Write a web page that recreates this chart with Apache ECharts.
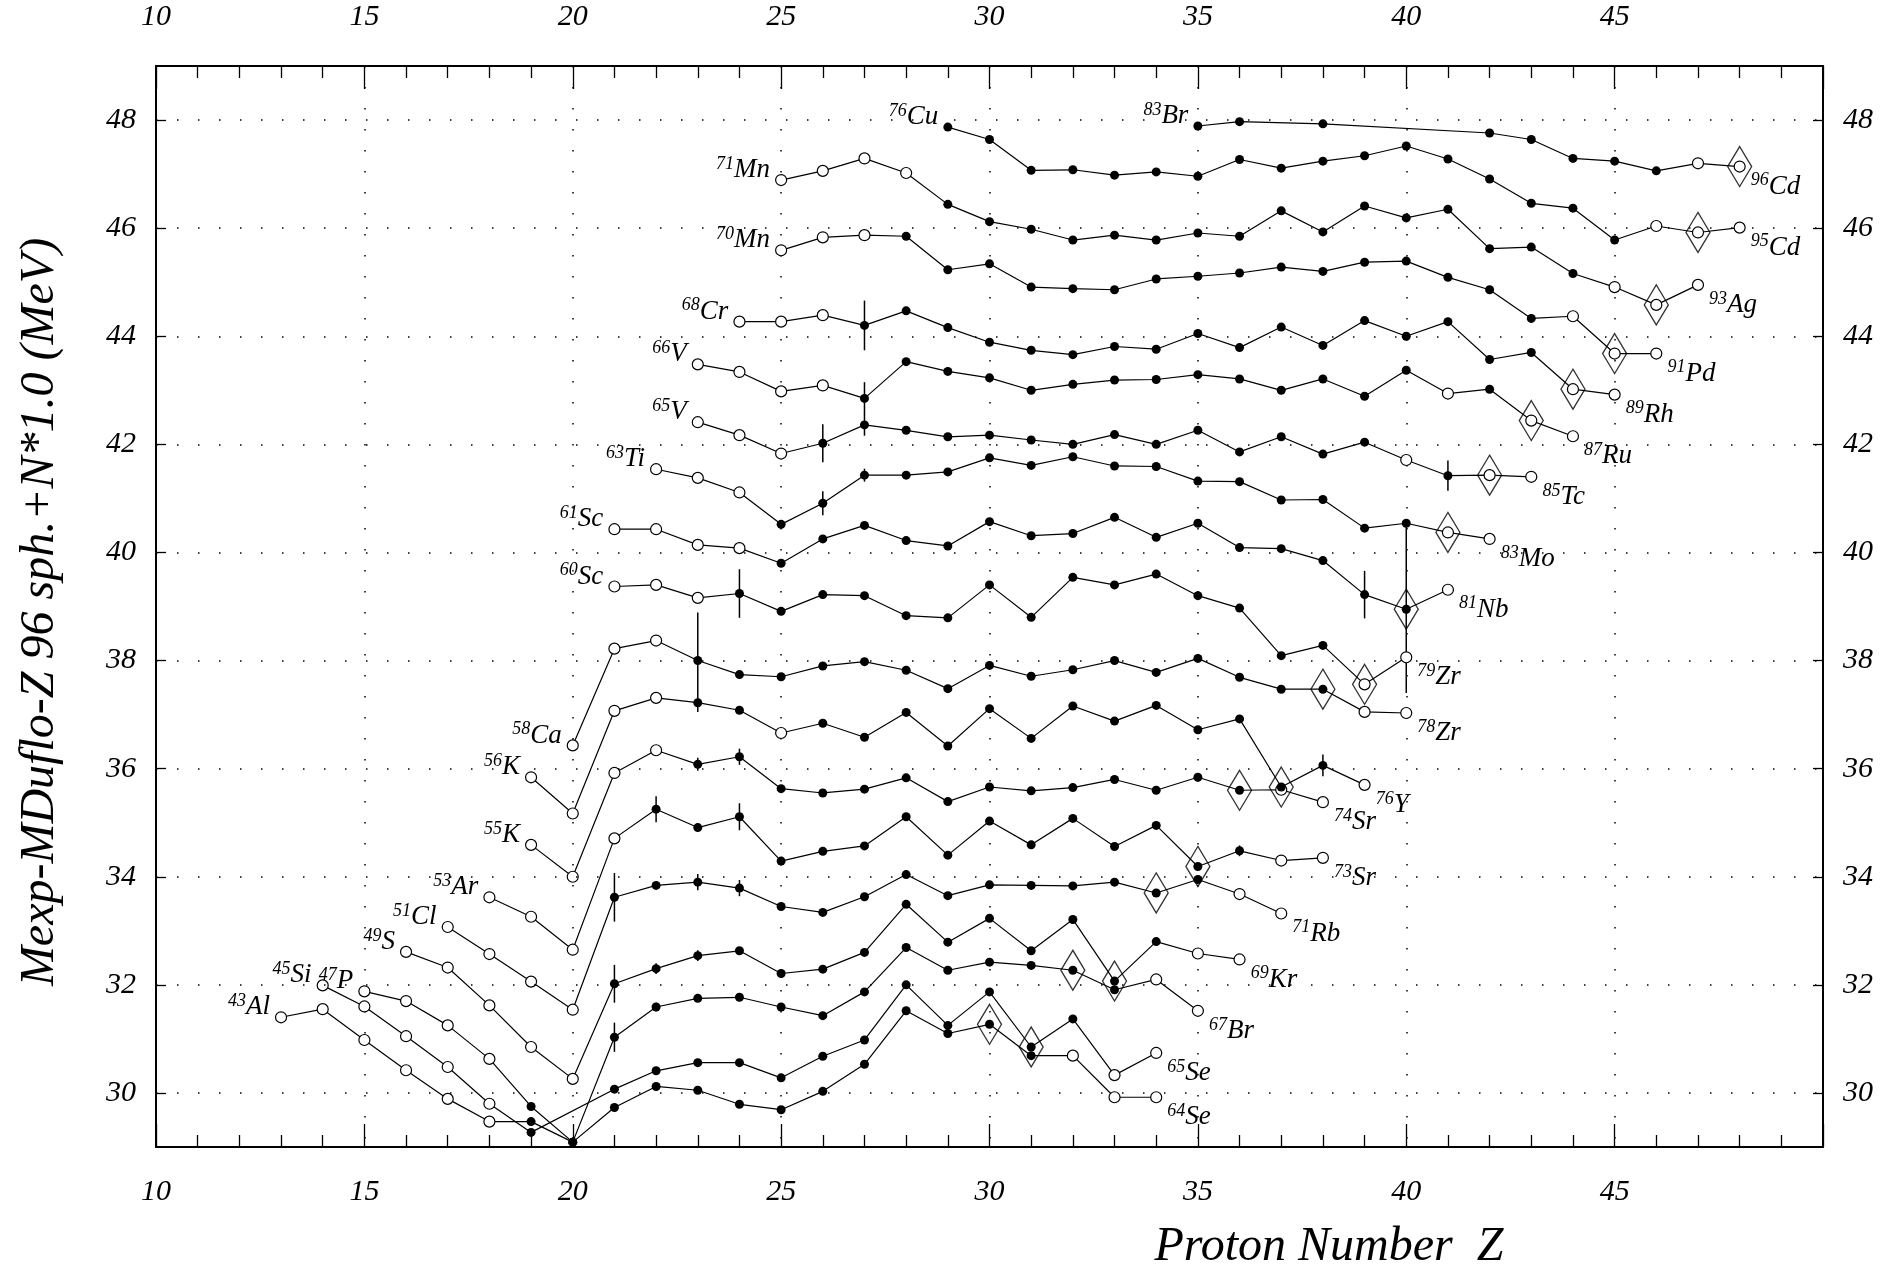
<!DOCTYPE html>
<html><head><meta charset="utf-8">
<script src="https://cdn.jsdelivr.net/npm/echarts@6/dist/echarts.min.js"></script>
<style>html,body{margin:0;padding:0;background:#fff}#c{width:1895px;height:1269px}</style>
</head><body><div id="c"></div>
<script>
const F = '"Liberation Serif","DejaVu Serif",serif';
const yTicks = [30,32,34,36,38,40,42,44,46,48];

// isotone chains: neutron number, first Z, labels
const chainN = [30,31,32,33,34,35,36,37,38,39,40,41,42,43,44,45,46,47,48];
const chainZ0 = [13,14,15,16,17,18,19,19,20,21,21,22,23,23,24,25,25,29,35];
const leftMass = ['43','45','47','49','51','53','55','56','58','60','61','63','65','66','68','70','71','76','83'];
const leftEl = ['Al','Si','P','S','Cl','Ar','K','K','Ca','Sc','Sc','Ti','V','V','Cr','Mn','Mn','Cu','Br'];
const rightMass = ['64','65','67','69','71','73','74','76','78','79','81','83','85','87','89','91','93','95','96'];
const rightEl = ['Se','Se','Br','Kr','Rb','Sr','Sr','Y','Zr','Zr','Nb','Mo','Tc','Ru','Rh','Pd','Ag','Cd','Cd'];

// values (MeV) from first Z upward, null = no point
const N30 = [31.40,31.55,30.98,30.42,29.89,29.47,29.47,29.09,29.73,30.12,30.05,29.79,29.69,30.03,30.53,31.52,31.10,31.27,30.69,30.69,29.92,29.92];
const N31 = [31.99,31.60,31.05,30.48,29.80,29.27,null,30.07,30.41,30.56,30.56,30.28,30.68,30.98,32.00,31.25,31.87,30.85,31.37,30.33,30.74];
const N32 = [31.88,31.70,31.25,30.63,29.75,29.09,31.03,31.59,31.75,31.77,31.59,31.43,31.87,32.69,32.27,32.42,32.36,32.27,31.91,32.10,31.52];
const N33 = [32.61,32.32,31.62,30.85,30.26,32.02,32.30,32.54,32.63,32.21,32.29,32.60,33.49,32.79,33.23,32.63,33.21,32.07,32.80,32.58,32.47];
const N34 = [33.07,32.57,32.06,31.54,33.62,33.84,33.90,33.79,33.45,33.34,33.63,34.04,33.65,33.85,33.84,33.83,33.90,33.70,33.95,33.68,33.32];
const N35 = [33.62,33.26,32.65,34.71,35.25,34.91,35.11,34.29,34.47,34.57,35.11,34.40,35.03,34.59,35.08,34.56,34.95,34.19,34.48,34.30,34.35];
const N36 = [34.59,34.00,35.92,36.34,36.08,36.22,35.63,35.55,35.62,35.83,35.39,35.66,35.59,35.65,35.80,35.60,35.84,35.60,35.61,35.38];
const N37 = [35.84,35.17,37.07,37.31,37.22,37.08,36.66,36.84,36.58,37.04,36.42,37.11,36.56,37.16,36.88,37.17,36.72,36.92,35.66,36.06,35.70];
const N38 = [36.43,38.22,38.37,38.00,37.74,37.70,37.90,37.98,37.82,37.48,37.91,37.71,37.83,38.00,37.78,38.04,37.69,37.47,37.47,37.05,37.03];
const N39 = [39.37,39.40,39.16,39.24,38.91,39.22,39.20,38.83,38.79,39.40,38.80,39.54,39.40,39.60,39.20,38.97,38.09,38.28,37.56,38.06];
const N40 = [40.43,40.43,40.14,40.08,39.80,40.25,40.50,40.22,40.12,40.57,40.31,40.35,40.65,40.28,40.54,40.09,40.07,39.85,39.22,38.95,39.31];
const N41 = [41.54,41.38,41.11,40.52,40.91,41.43,41.43,41.49,41.75,41.61,41.77,41.60,41.59,41.32,41.31,40.97,40.98,40.45,40.54,40.37,40.25];
const N42 = [42.41,42.17,41.83,42.02,42.36,42.26,42.14,42.17,42.08,42.00,42.18,42.00,42.26,41.86,42.14,41.82,42.04,41.71,41.42,41.43,41.40];
const N43 = [43.48,43.34,42.98,43.09,42.85,43.53,43.35,43.23,43.00,43.11,43.19,43.20,43.29,43.21,43.00,43.21,42.89,43.37,42.94,43.02,42.44,42.15];
const N44 = [44.27,44.27,44.39,44.20,44.47,44.16,43.89,43.74,43.66,43.81,43.76,44.05,43.79,44.17,43.83,44.29,44.00,44.27,43.57,43.70,43.02,42.92];
const N45 = [45.59,45.83,45.87,45.85,45.23,45.34,44.91,44.88,44.86,45.06,45.11,45.17,45.28,45.20,45.37,45.39,45.09,44.86,44.33,44.37,43.68,43.68];
const N46 = [46.89,47.06,47.29,47.02,46.44,46.12,45.98,45.78,45.87,45.78,45.91,45.85,46.32,45.93,46.41,46.19,46.35,45.62,45.65,45.16,44.91,44.58,44.95];
const N47 = [47.87,47.64,47.07,47.08,46.98,47.04,46.96,47.27,47.11,47.24,47.34,47.52,47.28,46.91,46.46,46.37,45.78,46.04,45.92,46.01];
const N48 = [47.89,47.97,null,47.93,null,null,null,47.76,47.64,47.29,47.24,47.06,47.20,47.14];

// Z of extrapolated (open-circle) points per chain
const open30 = [13,14,15,16,17,18,32,33,34];
const open31 = [14,15,16,17,18,33,34];
const open32 = [15,16,17,18,34,35];
const open33 = [16,17,18,19,20,35,36];
const open34 = [17,18,19,20,36,37];
const open35 = [18,19,20,21,37,38];
const open36 = [19,20,21,22,37,38];
const open37 = [19,20,21,22,25,39];
const open38 = [20,21,22,39,40];
const open39 = [21,22,23,39,40];
const open40 = [21,22,23,24,41];
const open41 = [22,23,24,41,42];
const open42 = [23,24,25,40,42,43];
const open43 = [23,24,25,26,41,43,44];
const open44 = [24,25,26,44,45];
const open45 = [25,26,27,44,45,46];
const open46 = [25,26,27,28,45,46,47];
const open47 = [46,47,48];
const open48 = [47,48];

// error bars: [Z, value, half-width]
const errBars = [[21,31.03,0.27],[21,32.02,0.35],[21,33.62,0.45],[22,35.25,0.24],[22,32.30,0.10],[22,31.59,0.08],
  [23,37.97,0.92],[23,36.08,0.12],[23,33.90,0.15],[23,32.54,0.10],[24,36.22,0.15],[24,35.11,0.25],[24,33.79,0.15],
  [24,39.24,0.45],[26,40.91,0.22],[27,41.43,0.12],[26,42.02,0.35],[27,42.36,0.20],[27,42.85,0.30],[27,44.20,0.46],
  [36,34.48,0.10],[38,36.06,0.20],[39,39.22,0.44],[40,39.00,1.60],[41,41.42,0.28],[43,44.33,0.08]];

const chainVals = [N30,N31,N32,N33,N34,N35,N36,N37,N38,N39,N40,N41,N42,N43,N44,N45,N46,N47,N48];
const chainOpen = [open30,open31,open32,open33,open34,open35,open36,open37,open38,open39,open40,open41,open42,open43,open44,open45,open46,open47,open48];

const rich = {
  s: {fontSize: 18, fontStyle: 'italic', fontFamily: F, color: '#000', verticalAlign: 'top', lineHeight: 18},
  e: {fontSize: 27, fontStyle: 'italic', fontFamily: F, color: '#000', lineHeight: 30}
};

const series = [];
const diamonds = [];
chainN.forEach((N, k) => {
  const z0 = chainZ0[k], vals = chainVals[k], op = chainOpen[k];
  const pts = [];
  vals.forEach((v, i) => { if (v !== null) pts.push([z0 + i, v]); });
  const data = pts.map((p, j) => {
    const isOpen = op.indexOf(p[0]) >= 0;
    const item = {
      value: p,
      symbolSize: isOpen ? 11 : 9,
      itemStyle: isOpen ? {color: '#fff', borderColor: '#000', borderWidth: 1.2} : {color: '#000', borderColor: '#000', borderWidth: 0}
    };
    if (j === 0) item.label = {show: true, position: 'left', distance: 5, offset: [0, -10],
      formatter: '{s|' + leftMass[k] + '}{e|' + leftEl[k] + '}', rich: rich};
    if (j === pts.length - 1) item.label = {show: true, position: 'right', distance: 5, offset: [0, 20],
      formatter: '{s|' + rightMass[k] + '}{e|' + rightEl[k] + '}', rich: rich};
    if (p[0] === N) diamonds.push(p);
    return item;
  });
  series.push({
    type: 'line', data: data, symbol: 'circle', showAllSymbol: true, connectNulls: true,
    lineStyle: {color: '#000', width: 1.2}, itemStyle: {color: '#000'},
    label: {show: false}, z: 3, silent: true, animation: false,
    markLine: k === 0 ? {silent: true, symbol: ['none', 'none'], label: {show: false}, animation: false,
      lineStyle: {type: [1.5, 19.5], color: '#000', width: 1.5},
      data: yTicks.map(v => ({yAxis: v}))} : undefined
  });
});

series.unshift({
  type: 'custom', data: errBars, encode: {x: 0, y: 1}, z: 2, silent: true, animation: false,
  renderItem: function (params, api) {
    const x = api.value(0), y = api.value(1), e = api.value(2);
    const a = api.coord([x, y - e]), b = api.coord([x, y + e]);
    return {type: 'line', shape: {x1: a[0], y1: a[1], x2: b[0], y2: b[1]}, style: {stroke: '#000', lineWidth: 1.5}};
  }
});

series.push({
  type: 'scatter', data: diamonds, symbol: 'diamond', symbolSize: [24, 40], z: 5, silent: true, animation: false,
  itemStyle: {color: 'rgba(0,0,0,0)', borderColor: '#000', borderWidth: 1.4}
});

const labelStyle = {fontSize: 30, fontStyle: 'italic', fontFamily: F, color: '#000'};
const xBase = {
  type: 'value', min: 10, max: 50, interval: 5,
  axisLine: {show: true, onZero: false, lineStyle: {color: '#000', width: 2}},
  axisTick: {show: true, inside: true, length: 23, lineStyle: {color: '#000', width: 1.3}},
  minorTick: {show: true, splitNumber: 5, length: 12, lineStyle: {color: '#000', width: 1.3}},
  axisLabel: Object.assign({formatter: v => (v === 50 ? '' : String(v)), margin: 30}, labelStyle)
};
const yBase = {
  type: 'value', min: 29, max: 49,
  axisLine: {show: true, onZero: false, lineStyle: {color: '#000', width: 2}},
  axisTick: {show: true, inside: true, length: 10, customValues: yTicks, lineStyle: {color: '#000', width: 1.3}},
  splitLine: {show: false}
};

const option = {
  backgroundColor: '#fff',
  animation: false,
  grid: {left: 156, top: 66, width: 1667, height: 1081, containLabel: false},
  xAxis: [
    Object.assign({}, xBase, {position: 'bottom',
      splitLine: {show: true, lineStyle: {type: [1.5, 19.5], color: '#000', width: 1.5}}}),
    Object.assign({}, xBase, {position: 'top', splitLine: {show: false},
      axisLabel: Object.assign({formatter: v => (v === 50 ? '' : String(v)), margin: 34}, labelStyle)})
  ],
  yAxis: [
    Object.assign({}, yBase, {position: 'left', axisLabel: Object.assign({customValues: yTicks, margin: 20}, labelStyle)}),
    Object.assign({}, yBase, {position: 'right', axisLabel: Object.assign({customValues: yTicks, margin: 20}, labelStyle)})
  ],
  graphic: [
    {type: 'text', x: 40, y: 612, rotation: Math.PI / 2, silent: true,
      style: {text: 'Mexp-MDuflo-Z 96 sph.+N*1.0 (MeV)', font: 'italic 48px ' + F, fill: '#000',
        textAlign: 'center', textVerticalAlign: 'middle'}},
    {type: 'text', x: 1329, y: 1247, silent: true,
      style: {text: 'Proton Number  Z', font: 'italic 48px ' + F, fill: '#000',
        textAlign: 'center', textVerticalAlign: 'middle'}}
  ],
  series: series
};

const chart = echarts.init(document.getElementById('c'), null, {renderer: 'canvas'});
chart.setOption(option);
</script></body></html>
